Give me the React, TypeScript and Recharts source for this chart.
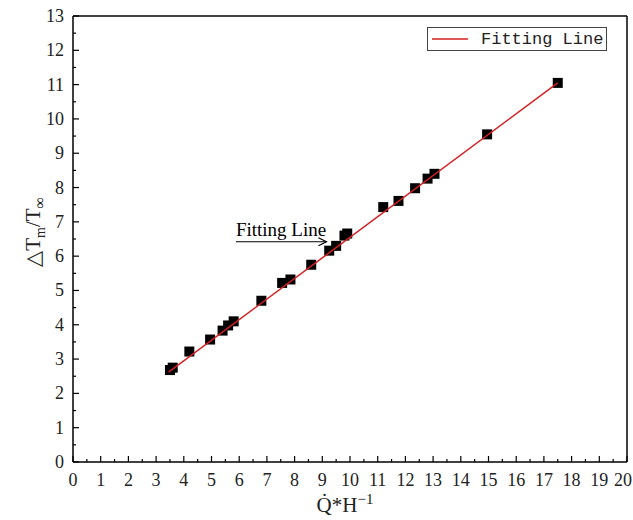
import { ComposedChart, Scatter, XAxis, YAxis, ReferenceLine } from 'recharts'

// measured points
const qh = [3.5, 3.6, 4.2, 4.95, 5.4, 5.6, 5.8, 6.8, 7.55, 7.85, 8.6, 9.25, 9.5, 9.8, 9.9, 11.2, 11.75, 12.35, 12.8, 13.05, 14.95, 17.5]
const dT = [2.68, 2.75, 3.22, 3.57, 3.83, 3.98, 4.1, 4.7, 5.22, 5.32, 5.75, 6.16, 6.3, 6.6, 6.66, 7.43, 7.61, 7.98, 8.26, 8.4, 9.55, 11.05]

// fitting line end points
const fitX = [3.45, 17.5]
const fitY = [2.62, 11.05]

const xTicks = Array.from({ length: 41 }, (_, i) => i / 2)
const yTicks = Array.from({ length: 27 }, (_, i) => i / 2)

const points = qh.map((x, i) => ({ x, y: dT[i] }))
const fitData = fitX.map((x, i) => ({ x, y: fitY[i] }))

const serif = '"Liberation Serif", "DejaVu Serif", serif'

const XTick = (props: any) => {
 const { x, y, payload } = props
 const v = payload.value
 const major = Number.isInteger(v)
 return (
 <g>
 <line x1={x} y1={y} x2={x} y2={y - (major ? 6 : 3)} stroke="#000" strokeWidth={1.2} />
 {major && (
 <text x={v === 20 ? x - 4 : x} y={y + 24} textAnchor="middle" fontSize={18} fontFamily={serif} fill="#222">{v}</text>
 )}
 </g>
 )
}

const YTick = (props: any) => {
 const { x, y, payload } = props
 const v = payload.value
 const major = Number.isInteger(v)
 return (
 <g>
 <line x1={x} y1={y} x2={x + (major ? 6 : 3)} y2={y} stroke="#000" strokeWidth={1.2} />
 {major && (
 <text x={x - 9} y={y + 6} textAnchor="end" fontSize={18} fontFamily={serif} fill="#222">{v}</text>
 )}
 </g>
 )
}

const Square = (props: any) => {
 const { cx, cy } = props
 return <rect x={cx - 5} y={cy - 5} width={10} height={10} fill="#000" />
}

const Arrow = (props: any) => {
 const { x1, y1, x2, y2 } = props
 return (
 <g>
 <text x={x1} y={y1 - 6} fontSize={19} fontFamily={serif} fill="#000">Fitting Line</text>
 <line x1={x1} y1={y1} x2={x2} y2={y2} stroke="#000" strokeWidth={1.2} />
 <polyline points={`${x2 - 8},${y2 - 4} ${x2},${y2} ${x2 - 8},${y2 + 4}`} fill="none" stroke="#000" strokeWidth={1.2} />
 </g>
 )
}

export default function App() {
 return (
 <div style={{ position: 'absolute', left: 0, top: 0, width: 633, height: 520, background: '#fff' }}>
 <ComposedChart width={633} height={520} margin={{ top: 16, right: 6, bottom: 0, left: 0 }}>
 <XAxis
 dataKey="x"
 type="number"
 domain={[0, 20]}
 ticks={xTicks}
 interval={0}
 tickSize={0}
 tickMargin={0}
 tick={<XTick />}
 height={58}
 stroke="#000"
 strokeWidth={1.5}
 allowDataOverflow
 />
 <YAxis
 dataKey="y"
 type="number"
 domain={[0, 13]}
 ticks={yTicks}
 interval={0}
 tickSize={0}
 tickMargin={0}
 tick={<YTick />}
 width={73}
 stroke="#000"
 strokeWidth={1.5}
 allowDataOverflow
 />
 <ReferenceLine y={13} stroke="#000" strokeWidth={1.5} />
 <ReferenceLine x={20} stroke="#000" strokeWidth={1.5} />
 <ReferenceLine
 segment={[{ x: 5.88, y: 6.42 }, { x: 9.15, y: 6.42 }]}
 shape={<Arrow />}
 />
 <Scatter data={points} shape={<Square />} isAnimationActive={false} />
 <Scatter data={fitData} line={{ stroke: '#d42020', strokeWidth: 1.5 }} shape={() => null} isAnimationActive={false} />
 <text x={345} y={512} textAnchor="middle" fontSize={21} fontFamily={serif} fill="#222">
 Q̇*H<tspan dy={-8} fontSize={15}>−1</tspan>
 </text>
 <text transform="translate(40,232) rotate(-90)" textAnchor="middle" fontSize={21} fontFamily={serif} fill="#222">
 △T<tspan dy={5} fontSize={14}>m</tspan><tspan dy={-5}>/T</tspan><tspan dy={5} fontSize={16}>∞</tspan>
 </text>
 </ComposedChart>
 <div style={{ position: 'absolute', top: 27, left: 427, border: '1px solid #444', width: 178, height: 22, display: 'flex', alignItems: 'center', background: '#fff' }}>
 <svg width={46} height={22}>
 <line x1={4} y1={11} x2={40} y2={11} stroke="#d42020" strokeWidth={1.5} />
 </svg>
 <span style={{ fontFamily: '"Liberation Mono", monospace', fontSize: 17, color: '#222', marginLeft: 7 }}>Fitting Line</span>
 </div>
 </div>
 )
}
